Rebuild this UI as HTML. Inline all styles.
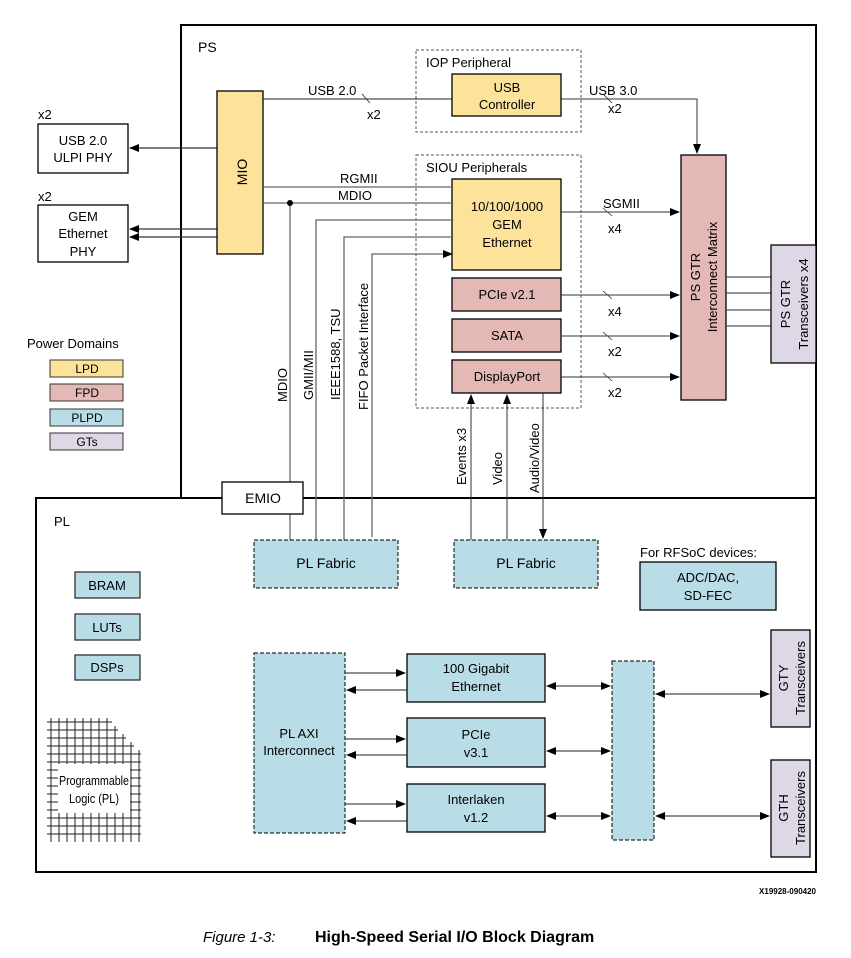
<!DOCTYPE html>
<html><head><meta charset="utf-8"><style>
html,body{margin:0;padding:0;background:#fff}
svg{display:block}
text{font-family:"Liberation Sans",Arial,sans-serif;fill:#000}
</style></head><body>
<svg width="851" height="958" viewBox="0 0 851 958" xmlns="http://www.w3.org/2000/svg">
<defs>
<marker id="a" markerWidth="10" markerHeight="8" refX="9" refY="4" orient="auto" markerUnits="userSpaceOnUse"><path d="M0,0 L10,4 L0,8 z" fill="#000"/></marker>
<marker id="s" markerWidth="10" markerHeight="8" refX="1" refY="4" orient="auto" markerUnits="userSpaceOnUse"><path d="M10,0 L0,4 L10,8 z" fill="#000"/></marker>
</defs>
<rect x="181" y="25" width="635" height="473" fill="none" stroke="#000" stroke-width="2"/>
<rect x="36" y="498" width="780" height="374" fill="none" stroke="#000" stroke-width="2"/>
<text x="198" y="52" font-size="14">PS</text>
<text x="54" y="526" font-size="13">PL</text>

<text x="38" y="119" font-size="13">x2</text>
<rect x="38" y="124" width="90" height="49" fill="#fff" stroke="#000" stroke-width="1.3"/>
<text x="83" y="145" font-size="13" text-anchor="middle">USB 2.0</text>
<text x="83" y="162" font-size="13" text-anchor="middle">ULPI PHY</text>
<text x="38" y="201" font-size="13">x2</text>
<rect x="38" y="205" width="90" height="57" fill="#fff" stroke="#000" stroke-width="1.3"/>
<text x="83" y="221" font-size="13" text-anchor="middle">GEM</text>
<text x="83" y="238" font-size="13" text-anchor="middle">Ethernet</text>
<text x="83" y="256" font-size="13" text-anchor="middle">PHY</text>
<g stroke="#333" stroke-width="1.2" fill="none">
<line x1="217" y1="148" x2="130" y2="148" marker-end="url(#a)"/>
<line x1="217" y1="229" x2="130" y2="229" marker-end="url(#a)"/>
<line x1="217" y1="237" x2="130" y2="237" marker-end="url(#a)"/>
</g>

<rect x="217" y="91" width="46" height="163" fill="#fde39a" stroke="#000" stroke-width="1.3"/>
<text transform="translate(247,172) rotate(-90)" font-size="14" text-anchor="middle">MIO</text>

<text x="27" y="348" font-size="13">Power Domains</text>
<rect x="50" y="360" width="73" height="17" fill="#fde39a" stroke="#333"/><text x="87" y="373" font-size="12" text-anchor="middle">LPD</text>
<rect x="50" y="384" width="73" height="17" fill="#e4b8b5" stroke="#333"/><text x="87" y="397" font-size="12" text-anchor="middle">FPD</text>
<rect x="50" y="409" width="73" height="17" fill="#b8dde7" stroke="#333"/><text x="87" y="422" font-size="12" text-anchor="middle">PLPD</text>
<rect x="50" y="433" width="73" height="17" fill="#ddd7e6" stroke="#333"/><text x="87" y="446" font-size="12" text-anchor="middle">GTs</text>

<rect x="416" y="50" width="165" height="82" fill="none" stroke="#555" stroke-dasharray="3,2"/>
<text x="426" y="67" font-size="13">IOP Peripheral</text>
<rect x="452" y="74" width="109" height="42" fill="#fde39a" stroke="#000" stroke-width="1.3"/>
<text x="507" y="92" font-size="13" text-anchor="middle">USB</text>
<text x="507" y="109" font-size="13" text-anchor="middle">Controller</text>
<line x1="263" y1="99" x2="452" y2="99" stroke="#222" stroke-width="1"/>
<text x="308" y="95" font-size="13">USB 2.0</text>
<line x1="362" y1="94" x2="370" y2="103" stroke="#222" stroke-width="0.8"/>
<text x="367" y="119" font-size="13">x2</text>
<polyline points="561,99 697,99 697,153" fill="none" stroke="#333" stroke-width="1" marker-end="url(#a)"/>
<text x="589" y="95" font-size="13">USB 3.0</text>
<line x1="603" y1="94" x2="612" y2="103" stroke="#222" stroke-width="0.8"/>
<text x="608" y="113" font-size="13">x2</text>

<rect x="416" y="155" width="165" height="253" fill="none" stroke="#555" stroke-dasharray="3,2"/>
<text x="426" y="172" font-size="13">SIOU Peripherals</text>
<rect x="452" y="179" width="109" height="91" fill="#fde39a" stroke="#000" stroke-width="1.3"/>
<text x="507" y="211" font-size="13" text-anchor="middle">10/100/1000</text>
<text x="507" y="229" font-size="13" text-anchor="middle">GEM</text>
<text x="507" y="247" font-size="13" text-anchor="middle">Ethernet</text>
<rect x="452" y="278" width="109" height="33" fill="#e4b8b5" stroke="#000" stroke-width="1.3"/>
<text x="507" y="299" font-size="13" text-anchor="middle">PCIe v2.1</text>
<rect x="452" y="319" width="109" height="33" fill="#e4b8b5" stroke="#000" stroke-width="1.3"/>
<text x="507" y="340" font-size="13" text-anchor="middle">SATA</text>
<rect x="452" y="360" width="109" height="33" fill="#e4b8b5" stroke="#000" stroke-width="1.3"/>
<text x="507" y="381" font-size="13" text-anchor="middle">DisplayPort</text>

<g stroke="#666" stroke-width="1.3" fill="none">
<line x1="263" y1="187" x2="452" y2="187"/>
<line x1="263" y1="203" x2="452" y2="203"/>
<polyline points="316,540 316,220 452,220"/>
<polyline points="344,540 344,237 452,237"/>
<polyline points="372,537 372,254 452,254" marker-end="url(#a)"/>
<line x1="290" y1="203" x2="290" y2="482"/>
<line x1="290" y1="514" x2="290" y2="540"/>
</g>
<circle cx="290" cy="203" r="3" fill="#000"/>
<text x="340" y="183" font-size="13">RGMII</text>
<text x="338" y="200" font-size="13">MDIO</text>
<text transform="translate(287,402) rotate(-90)" font-size="13">MDIO</text>
<text transform="translate(313,400) rotate(-90)" font-size="13">GMII/MII</text>
<text transform="translate(340,400) rotate(-90)" font-size="13">IEEE1588, TSU</text>
<text transform="translate(368,410) rotate(-90)" font-size="13">FIFO Packet Interface</text>

<g stroke="#333" stroke-width="1" fill="none">
<line x1="561" y1="212" x2="679" y2="212" marker-end="url(#a)"/>
<line x1="561" y1="295" x2="679" y2="295" marker-end="url(#a)"/>
<line x1="561" y1="336" x2="679" y2="336" marker-end="url(#a)"/>
<line x1="561" y1="377" x2="679" y2="377" marker-end="url(#a)"/>
<line x1="603" y1="208" x2="612" y2="216" stroke-width="0.8"/>
<line x1="603" y1="291" x2="612" y2="299" stroke-width="0.8"/>
<line x1="603" y1="332" x2="612" y2="340" stroke-width="0.8"/>
<line x1="603" y1="373" x2="612" y2="381" stroke-width="0.8"/>
</g>
<text x="603" y="208" font-size="13">SGMII</text>
<text x="608" y="233" font-size="13">x4</text>
<text x="608" y="316" font-size="13">x4</text>
<text x="608" y="356" font-size="13">x2</text>
<text x="608" y="397" font-size="13">x2</text>

<rect x="681" y="155" width="45" height="245" fill="#e4b8b5" stroke="#000" stroke-width="1.3"/>
<text transform="translate(700,277) rotate(-90)" font-size="13" text-anchor="middle">PS GTR</text>
<text transform="translate(717,277) rotate(-90)" font-size="13" text-anchor="middle">Interconnect Matrix</text>
<g stroke="#555" stroke-width="1.2"><line x1="726" y1="277" x2="771" y2="277"/><line x1="726" y1="293" x2="771" y2="293"/><line x1="726" y1="310" x2="771" y2="310"/><line x1="726" y1="326" x2="771" y2="326"/></g>
<rect x="771" y="245" width="45" height="118" fill="#ddd7e6" stroke="#000" stroke-width="1.3"/>
<text transform="translate(790,304) rotate(-90)" font-size="13" text-anchor="middle">PS GTR</text>
<text transform="translate(808,304) rotate(-90)" font-size="13" text-anchor="middle">Transceivers x4</text>

<g stroke="#333" stroke-width="1" fill="none">
<line x1="471" y1="540" x2="471" y2="395" marker-end="url(#a)"/>
<line x1="507" y1="540" x2="507" y2="395" marker-end="url(#a)"/>
<line x1="543" y1="393" x2="543" y2="538" marker-end="url(#a)"/>
</g>
<text transform="translate(466,485) rotate(-90)" font-size="13">Events x3</text>
<text transform="translate(502,485) rotate(-90)" font-size="13">Video</text>
<text transform="translate(539,493) rotate(-90)" font-size="13">Audio/Video</text>

<rect x="222" y="482" width="81" height="32" fill="#fff" stroke="#000" stroke-width="1.3"/>
<text x="263" y="503" font-size="14" text-anchor="middle">EMIO</text>

<rect x="254" y="540" width="144" height="48" fill="#b8dde7" stroke="#000" stroke-dasharray="4,2"/>
<text x="326" y="568" font-size="14" text-anchor="middle">PL Fabric</text>
<rect x="454" y="540" width="144" height="48" fill="#b8dde7" stroke="#000" stroke-dasharray="4,2"/>
<text x="526" y="568" font-size="14" text-anchor="middle">PL Fabric</text>
<text x="640" y="557" font-size="13">For RFSoC devices:</text>
<rect x="640" y="562" width="136" height="48" fill="#b8dde7" stroke="#000" stroke-width="1.3"/>
<text x="708" y="582" font-size="13" text-anchor="middle">ADC/DAC,</text>
<text x="708" y="600" font-size="13" text-anchor="middle">SD-FEC</text>

<rect x="75" y="572" width="65" height="26" fill="#b8dde7" stroke="#333" stroke-width="1.3"/><text x="107" y="590" font-size="13" text-anchor="middle">BRAM</text>
<rect x="75" y="614" width="65" height="26" fill="#b8dde7" stroke="#333" stroke-width="1.3"/><text x="107" y="632" font-size="13" text-anchor="middle">LUTs</text>
<rect x="75" y="655" width="65" height="25" fill="#b8dde7" stroke="#333" stroke-width="1.3"/><text x="107" y="672" font-size="13" text-anchor="middle">DSPs</text>

<!-- Grid -->
<path stroke="#222" stroke-width="1" fill="none" d="
M47,722H142 M47,730H142 M47,738H142 M47,746H142 M47,754H142 M47,762H142 M47,770H142 M47,778H142 M47,786H142 M47,794H142 M47,802H142 M47,810H142 M47,818H142 M47,826H142 M47,834H142
M51,718V842 M59,718V842 M67,718V842 M75,718V842 M83,718V842 M91,718V842 M99,718V842 M107,718V842 M115,718V842 M123,718V842 M131,718V842 M139,718V842"/>
<polygon points="112,715 146,715 146,845 141,845 141,750 134,750 134,742 126,742 126,734 118,734 118,726 112,726" fill="#fff"/>
<rect x="58" y="764" width="72" height="49" fill="#fff"/>
<text x="94" y="785" font-size="13" text-anchor="middle" textLength="70" lengthAdjust="spacingAndGlyphs">Programmable</text>
<text x="94" y="803" font-size="13" text-anchor="middle" textLength="50" lengthAdjust="spacingAndGlyphs">Logic (PL)</text>

<rect x="254" y="653" width="91" height="180" fill="#b8dde7" stroke="#000" stroke-dasharray="4,2"/>
<text x="299" y="738" font-size="13" text-anchor="middle">PL AXI</text>
<text x="299" y="755" font-size="13" text-anchor="middle">Interconnect</text>
<rect x="407" y="654" width="138" height="48" fill="#b8dde7" stroke="#000" stroke-width="1.3"/>
<text x="476" y="673" font-size="13" text-anchor="middle">100 Gigabit</text>
<text x="476" y="691" font-size="13" text-anchor="middle">Ethernet</text>
<rect x="407" y="718" width="138" height="49" fill="#b8dde7" stroke="#000" stroke-width="1.3"/>
<text x="476" y="739" font-size="13" text-anchor="middle">PCIe</text>
<text x="476" y="757" font-size="13" text-anchor="middle">v3.1</text>
<rect x="407" y="784" width="138" height="48" fill="#b8dde7" stroke="#000" stroke-width="1.3"/>
<text x="476" y="804" font-size="13" text-anchor="middle">Interlaken</text>
<text x="476" y="822" font-size="13" text-anchor="middle">v1.2</text>
<rect x="612" y="661" width="42" height="179" fill="#b8dde7" stroke="#000" stroke-dasharray="4,2"/>
<rect x="771" y="630" width="39" height="97" fill="#ddd7e6" stroke="#000" stroke-width="1.3"/>
<text transform="translate(788,678) rotate(-90)" font-size="13" text-anchor="middle">GTY</text>
<text transform="translate(805,678) rotate(-90)" font-size="13" text-anchor="middle">Transceivers</text>
<rect x="771" y="760" width="39" height="97" fill="#ddd7e6" stroke="#000" stroke-width="1.3"/>
<text transform="translate(788,808) rotate(-90)" font-size="13" text-anchor="middle">GTH</text>
<text transform="translate(805,808) rotate(-90)" font-size="13" text-anchor="middle">Transceivers</text>
<g stroke="#222" stroke-width="1.1" fill="none">
<line x1="345" y1="673" x2="405" y2="673" marker-end="url(#a)"/>
<line x1="407" y1="690" x2="347" y2="690" marker-end="url(#a)"/>
<line x1="345" y1="739" x2="405" y2="739" marker-end="url(#a)"/>
<line x1="407" y1="755" x2="347" y2="755" marker-end="url(#a)"/>
<line x1="345" y1="804" x2="405" y2="804" marker-end="url(#a)"/>
<line x1="407" y1="821" x2="347" y2="821" marker-end="url(#a)"/>
<line x1="547" y1="686" x2="610" y2="686" marker-start="url(#s)" marker-end="url(#a)"/>
<line x1="547" y1="751" x2="610" y2="751" marker-start="url(#s)" marker-end="url(#a)"/>
<line x1="547" y1="816" x2="610" y2="816" marker-start="url(#s)" marker-end="url(#a)"/>
<line x1="656" y1="694" x2="769" y2="694" marker-start="url(#s)" marker-end="url(#a)"/>
<line x1="656" y1="816" x2="769" y2="816" marker-start="url(#s)" marker-end="url(#a)"/>
</g>

<text x="816" y="894" font-size="8" font-weight="bold" text-anchor="end">X19928-090420</text>
<text x="203" y="942" font-size="15" font-style="italic" fill="#222">Figure 1-3:</text>
<text x="315" y="942" font-size="16" font-weight="bold">High-Speed Serial I/O Block Diagram</text>
</svg>
</body></html>
